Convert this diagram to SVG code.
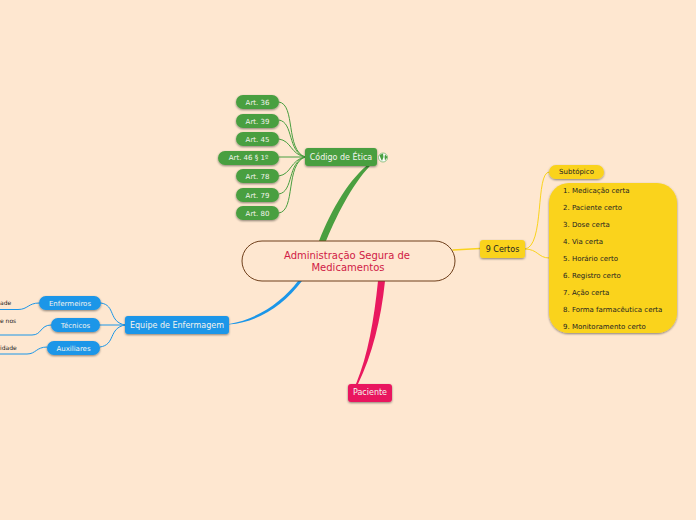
<svg xmlns="http://www.w3.org/2000/svg" width="696" height="520" viewBox="0 0 696 520">
<defs>
<filter id="s" x="-20%" y="-20%" width="140%" height="160%"><feDropShadow dx="0" dy="1" stdDeviation="1" flood-color="#000" flood-opacity="0.45"/></filter>
</defs>
<style>
text{font-family:"DejaVu Sans",Verdana,sans-serif;text-anchor:middle}
.c{fill:none;stroke-linecap:round}
.g{fill:#4a9f40}.b{fill:#1b96e8}.y{fill:#fad31c}.p{fill:#e9195f}
.w{fill:#f4f4ee}
.t8{font-size:8px}.t7{font-size:7px}.t6{font-size:6px}
.k{fill:#222}
.l{text-anchor:start}
</style>
<rect width="696" height="520" fill="#fee7d0"/>
<g id="connectors">
<path d="M319 241C332 208 350 178 370 163L373 163C355 180 339 210 326 241Z" fill="#4a9f40"/>
<path d="M298 281C282 302 258 319 229 324L229 324.500C258 322 283 306 302 281Z" fill="#1b96e8"/>
<path d="M378 281C374 320 368 355 356 384L358 384C372 355 381 320 385 281Z" fill="#e9195f"/>
<path d="M453 250L480 248.500" class="c" stroke="#fad31c" stroke-width="1.500"/>
<g stroke="#4a9f40" stroke-width="1" class="c">
<path d="M279 102C296 104 285 150 305 157"/>
<path d="M279 120C294 122 287 152 305 157"/>
<path d="M279 139C292 141 290 154 305 157"/>
<path d="M279 157L305 157"/>
<path d="M279 176C292 174 290 160 305 157"/>
<path d="M279 194C294 192 287 162 305 157"/>
<path d="M279 213C296 211 285 164 305 157"/>
</g>
<g stroke="#1b96e8" stroke-width="1" class="c">
<path d="M101 303C116 305 108 322 125 325"/>
<path d="M100 325L125 325"/>
<path d="M100 347C116 345 108 328 125 325"/>
<path d="M0 309.500L18 309.500C28 309.500 28 303 39 303"/>
<path d="M0 335L32 335C42 335 40 325 51 325"/>
<path d="M0 354L27 354C36 354 36 347 47 347"/>
</g>
<g stroke="#fad31c" stroke-width="1" class="c">
<path d="M525 249C545 247 535 172 549 172"/>
<path d="M525 249C538 249 538 258 549 258"/>
</g>
</g>
<g id="root">
<rect x="242" y="241" width="213" height="40" rx="20" fill="#fee7d0" stroke="#6f3f1a" stroke-width="1"/>
<text x="347" y="259" font-size="10px" fill="#d01a45">Administração Segura de</text>
<text x="348" y="271" font-size="10px" fill="#d01a45">Medicamentos</text>
</g>
<g id="codigo">
<rect x="305" y="148" width="72" height="18" rx="3" class="g" filter="url(#s)"/>
<text x="341" y="160" class="t8 w">Código de Ética</text>
<circle cx="383" cy="157.500" r="4.500" fill="#fff" stroke="#4a9f40" stroke-width="0.600"/>
<path d="M379.500 155L383 153.500L383.500 157L382 161L380.500 158ZM385 154.500L387.500 157L385 160.500L384.500 157Z" fill="#4a9f40"/>
</g>
<g id="art36"><rect x="236" y="95" width="43" height="14" rx="7" class="g" filter="url(#s)"/><text x="257.500" y="105" class="t7 w">Art. 36</text></g>
<g id="art39"><rect x="236" y="114" width="43" height="14" rx="7" class="g" filter="url(#s)"/><text x="257.500" y="123.500" class="t7 w">Art. 39</text></g>
<g id="art45"><rect x="236" y="132" width="43" height="14" rx="7" class="g" filter="url(#s)"/><text x="257.500" y="142" class="t7 w">Art. 45</text></g>
<g id="art46"><rect x="218" y="151" width="61" height="14" rx="7" class="g" filter="url(#s)"/><text x="248.500" y="160" class="t7 w">Art. 46 § 1º</text></g>
<g id="art78"><rect x="236" y="169" width="43" height="14" rx="7" class="g" filter="url(#s)"/><text x="257.500" y="179" class="t7 w">Art. 78</text></g>
<g id="art79"><rect x="236" y="188" width="43" height="14" rx="7" class="g" filter="url(#s)"/><text x="257.500" y="197.500" class="t7 w">Art. 79</text></g>
<g id="art80"><rect x="236" y="206" width="43" height="14" rx="7" class="g" filter="url(#s)"/><text x="257.500" y="216" class="t7 w">Art. 80</text></g>
<g id="equipe">
<rect x="125" y="316" width="104" height="18" rx="3" class="b" filter="url(#s)"/>
<text x="177" y="328" class="t8 w">Equipe de Enfermagem</text>
</g>
<g id="enfermeiros"><rect x="39" y="296" width="62" height="14" rx="7" class="b" filter="url(#s)"/><text x="70" y="306" class="t7 w">Enfermeiros</text></g>
<g id="tecnicos"><rect x="51" y="318" width="49" height="14" rx="7" class="b" filter="url(#s)"/><text x="75.500" y="328" class="t7 w">Técnicos</text></g>
<g id="auxiliares"><rect x="47" y="341" width="53" height="14" rx="7" class="b" filter="url(#s)"/><text x="73.500" y="350.500" class="t7 w">Auxiliares</text></g>
<g id="leaf1"><text x="0" y="305" class="t6 k l">ade</text></g>
<g id="leaf2"><text x="0" y="323" class="t6 k l">e nos</text></g>
<g id="leaf3"><text x="0" y="349.500" class="t6 k l">idade</text></g>
<g id="paciente">
<rect x="348" y="384" width="44" height="18" rx="3" class="p" filter="url(#s)"/>
<text x="370" y="395" class="t8 w">Paciente</text>
</g>
<g id="certos">
<rect x="480" y="240" width="45" height="18" rx="3" class="y" filter="url(#s)"/>
<text x="502.500" y="252" class="t8 k">9 Certos</text>
</g>
<g id="subtopico"><rect x="549" y="165" width="55" height="14" rx="7" class="y" filter="url(#s)"/><text x="576.500" y="174" class="t7 k">Subtópico</text></g>
<g id="lista">
<rect x="549" y="183" width="128" height="150" rx="20" class="y" filter="url(#s)"/>
<text x="563" y="193" class="t7 k l">1. Medicação certa</text>
<text x="563" y="210" class="t7 k l">2. Paciente certo</text>
<text x="563" y="227" class="t7 k l">3. Dose certa</text>
<text x="563" y="244" class="t7 k l">4. Via certa</text>
<text x="563" y="261" class="t7 k l">5. Horário certo</text>
<text x="563" y="278" class="t7 k l">6. Registro certo</text>
<text x="563" y="295" class="t7 k l">7. Ação certa</text>
<text x="563" y="312" class="t7 k l">8. Forma farmacêutica certa</text>
<text x="563" y="329" class="t7 k l">9. Monitoramento certo</text>
</g>
</svg>
